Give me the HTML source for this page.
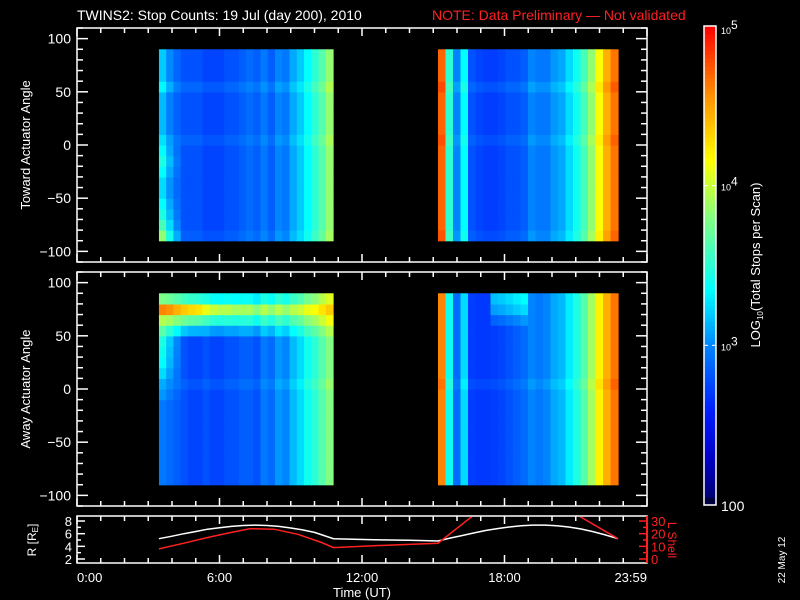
<!DOCTYPE html>
<html><head><meta charset="utf-8"><style>
html,body{margin:0;padding:0;background:#000;}
svg{display:block;font-family:"Liberation Sans",sans-serif;}
</style></head><body>
<svg id="c" width="800" height="600" viewBox="0 0 800 600">
<rect width="800" height="600" fill="#000"/>
<g id="heat"></g><g id="axes"></g><g id="lines"></g>
<text x="77" y="20" fill="#fff" font-size="14">TWINS2: Stop Counts: 19 Jul (day 200), 2010</text>
<text x="432" y="20" fill="#ff2020" font-size="14">NOTE: Data Preliminary — Not validated</text>
<text transform="translate(30,145) rotate(-90)" text-anchor="middle" fill="#fff" font-size="13">Toward Actuator Angle</text>
<text transform="translate(30,389) rotate(-90)" text-anchor="middle" fill="#fff" font-size="13">Away Actuator Angle</text>
<text transform="translate(36,540) rotate(-90)" text-anchor="middle" fill="#fff" font-size="12">R [R<tspan font-size="8" dy="2">E</tspan><tspan dy="-2">]</tspan></text>
<text transform="translate(668,540) rotate(90)" text-anchor="middle" fill="#ff2020" font-size="12">L Shell</text>
<text x="362" y="597" text-anchor="middle" fill="#fff" font-size="13">Time (UT)</text>
<text transform="translate(760,265) rotate(-90)" text-anchor="middle" fill="#fff" font-size="13">LOG<tspan font-size="8" dy="3">10</tspan><tspan dy="-3">(Total Stops per Scan)</tspan></text>
<text transform="translate(785,560) rotate(-90)" text-anchor="middle" fill="#fff" font-size="10">22 May 12</text>
</svg>
<script>
// ---- data ----
const block1Range=[3.45,10.78];
const block2Range=[15.2,22.78];
const topBlock1=[3.1,2.95,2.85,2.8,2.8,2.8,2.75,2.75,2.75,2.8,2.8,2.85,2.9,2.85,2.95,2.85,3.0,2.95,3.1,3.2,3.35,3.5,3.65,3.85];
const botBlock1=[2.95,2.9,2.85,2.8,2.75,2.75,2.8,2.75,2.75,2.8,2.8,2.85,2.85,2.8,2.95,2.9,3.05,3.0,3.15,3.25,3.4,3.5,3.65,3.8];
const topBlock2=[4.7,3.5,3.0,3.35,2.8,2.75,2.72,2.72,2.75,2.8,2.8,2.85,3.0,2.95,2.95,3.05,3.1,3.25,3.4,3.6,3.85,4.15,4.45,4.65];
const botBlock2=[4.6,3.4,2.9,3.25,2.72,2.7,2.7,2.72,2.75,2.8,2.85,2.9,3.0,2.95,3.0,3.1,3.15,3.3,3.45,3.65,3.9,4.2,4.45,4.65];
const topRowOff=[0.05,0,0,0,0,0,0,0,0,0.06,0,0,0,0,0.08,0,0,0];
const topLeftBoost=[0.7,0.5,0.35,0.25,0.15,0.15,0.25,0.35,0.25,0.1,0.05,0.05,0.05,0.05,0.15,0.1,0.1,0.1];
const botRowOff=[0,0,0,0,0,0,0,0,0,0.06,0,0,0,0,0,0,0,0];
const botLeftBoost=[0,0,0,0,0,0,0,0,0.1,0.1,0.3,0.4,0.45,0.5,0.3,0,0,0];
const botBandShape=[0,0,0,0,0,0,0,0,0,0,0,0,0,0,0.25,0.6,1.0,0.5];
const botBandAmp=[1.65,1.65,1.6,1.55,1.55,1.5,1.3,1.25,1.2,1.15,1.1,1.05,1.05,1.0,1.0,0.95,0.9,0.85,0.8,0.75,0.7,0.65,0.6,0.55];
const botBlock2TopBoost=[0,0,0,0,0,0,0,0,0,0,0,0,0,0,0,0.15,0.35,0.45];
const yTicks=[-100,-50,0,50,100];
const xTickLabels=["0:00","6:00","12:00","18:00","23:59"];
const xTickHours=[0,6,12,18,24];
const orbitHours=[3.45,4,4.5,5,5.5,6,6.5,7,7.5,8,8.5,9,9.5,10,10.8,12.5,14,15.2,15.7,16.2,16.7,17.2,17.7,18.2,18.7,19.2,19.7,20.2,20.7,21.2,21.7,22.2,22.78];
const rValues=[5.2,5.6,6.0,6.35,6.7,6.95,7.15,7.3,7.35,7.3,7.15,6.9,6.6,6.2,5.2,5.05,4.95,4.85,5.3,5.7,6.1,6.5,6.8,7.05,7.25,7.35,7.35,7.25,7.05,6.75,6.35,5.85,5.2];
const lHours=[3.45,4.5,5.5,6.5,7.3,8.3,9.3,10.3,10.8,12.5,14,15.2,17.2,20.4,22.78];
const lValues=[8,12.5,17,21,24,23.5,19.5,13,9,10.5,11.5,12.5,42,42,16];
const cbTicks=[2,3,4,5];
const cbLabels=["100","10","10","10"];
const cbExp=["","3","4","5"];
// ---- layout ----
const NS="http://www.w3.org/2000/svg";
const X0=77,X1=647;
const xs=h=>X0+(X1-X0)*h/24;
const panels=[{top:28,bot:262},{top:272,bot:506}];
const ys=(p,a)=>p.top+(p.bot-p.top)*(110-a)/220;
const SP={top:516,bot:563};
const rS=r=>559-(r-2)*6.33;
const lS=l=>rS(2+l/5);
function el(tag,attrs,parent){const e=document.createElementNS(NS,tag);for(const k in attrs)e.setAttribute(k,attrs[k]);parent.appendChild(e);return e;}
const stops=[[0,0,0,100],[0.1,0,0,200],[0.2,0,30,255],[0.33,0,130,255],[0.45,0,255,255],[0.6,130,255,130],[0.72,255,255,0],[0.86,255,140,0],[1,255,0,0]];
function cmap(v){v=Math.max(0,Math.min(1,v));for(let i=1;i<stops.length;i++){if(v<=stops[i][0]){const a=stops[i-1],b=stops[i],t=(v-a[0])/(b[0]-a[0]);
  return `rgb(${Math.round(a[1]+(b[1]-a[1])*t)},${Math.round(a[2]+(b[2]-a[2])*t)},${Math.round(a[3]+(b[3]-a[3])*t)})`;}}return 'rgb(255,0,0)';}
const logToV=l=>(l-2)/3;
const heat=document.getElementById('heat'),axes=document.getElementById('axes'),lines=document.getElementById('lines');
function drawBlock(p,range,base,rowOff,left,band,bandShape,topBoost,name){
  const n=base.length,dh=(range[1]-range[0])/n;
  for(let c=0;c<n;c++){for(let r=0;r<18;r++){
    let v=base[c]+rowOff[r];
    if(left){const w=[1,0.6,0.3][c]||0;v+=left[r]*w;}
    if(band)v+=band[c]*bandShape[r];
    if(topBoost&&c>=7&&c<=11)v+=topBoost[r];
    const x0=xs(range[0]+c*dh),x1=xs(range[0]+(c+1)*dh);
    const a0=-90+r*10,a1=a0+10;
    const rc=el('rect',{x:x0.toFixed(2),y:ys(p,a1).toFixed(2),width:(x1-x0+0.6).toFixed(2),height:(ys(p,a0)-ys(p,a1)+0.6).toFixed(2),fill:cmap(logToV(v))},heat);
    
    
  }}
}
drawBlock(panels[0],block1Range,topBlock1,topRowOff,topLeftBoost,null,null,null,'toward-block1');
drawBlock(panels[0],block2Range,topBlock2,topRowOff,null,null,null,null,'toward-block2');
drawBlock(panels[1],block1Range,botBlock1,botRowOff,botLeftBoost,botBandAmp,botBandShape,null,'away-block1');
drawBlock(panels[1],block2Range,botBlock2,botRowOff,null,null,null,botBlock2TopBoost,'away-block2');
function xTicks(top,bot){
  for(let h=0;h<=24;h++){const x=xs(h),L=(h%6===0)?8:5;
    el('line',{x1:x,x2:x,y1:bot,y2:bot-L,stroke:'#fff','stroke-width':1.5},axes);
    el('line',{x1:x,x2:x,y1:top,y2:top+L,stroke:'#fff','stroke-width':1.5},axes);}
}
panels.forEach((p,i)=>{
  const f=el('rect',{x:X0,y:p.top,width:X1-X0,height:p.bot-p.top,fill:'none',stroke:'#fff','stroke-width':1.5},axes);
  
  
  for(let a=-110;a<=110;a+=10){const y=ys(p,a),L=(a%50===0)?11:6;
    el('line',{x1:X0,x2:X0+L,y1:y,y2:y,stroke:'#fff','stroke-width':1.5},axes);
    el('line',{x1:X1,x2:X1-L,y1:y,y2:y,stroke:'#fff','stroke-width':1.5},axes);}
  xTicks(p.top,p.bot);
  yTicks.forEach(t=>{const tx=el('text',{x:X0-6,y:ys(p,t)+5,'text-anchor':'end',fill:'#fff','font-size':14},axes);tx.textContent=(t<0?'\u2212'+(-t):t);
    
    });
});
const sf=el('rect',{x:X0,y:SP.top,width:X1-X0,height:SP.bot-SP.top,fill:'none',stroke:'#fff','stroke-width':1.5},axes);


xTicks(SP.top,SP.bot);
for(let r=2;r<=8;r++){const y=rS(r),L=r%2===0?8:4;el('line',{x1:X0,x2:X0+L,y1:y,y2:y,stroke:'#fff','stroke-width':1.5},axes);
  if(r%2===0){const t=el('text',{x:X0-5,y:y+5,'text-anchor':'end',fill:'#fff','font-size':13},axes);t.textContent=r;
    
    }}
el('line',{x1:X1,x2:X1,y1:SP.top,y2:SP.bot,stroke:'#ff2020','stroke-width':2},axes);
for(let l=0;l<=30;l+=5){const y=lS(l),L=l%10===0?8:4;el('line',{x1:X1,x2:X1-L,y1:y,y2:y,stroke:'#ff2020','stroke-width':1.5},axes);
  if(l%10===0){const t=el('text',{x:X1+4,y:y+5,fill:'#ff2020','font-size':13},axes);t.textContent=l;
    
    }}
xTickHours.forEach((h,i)=>{const anchor=i===0?'start':(i===4?'end':'middle');
  const t=el('text',{x:xs(h),y:582,'text-anchor':anchor,fill:'#fff','font-size':13},axes);t.textContent=xTickLabels[i];
  
  });
const clip=el('clipPath',{id:'sc'},lines);el('rect',{x:X0,y:SP.top+1,width:X1-X0,height:SP.bot-SP.top-1},clip);
const rp=el('polyline',{points:orbitHours.map((h,i)=>xs(h).toFixed(1)+','+rS(rValues[i]).toFixed(1)).join(' '),fill:'none',stroke:'#fff','stroke-width':1.5,'clip-path':'url(#sc)'},lines);


const lp=el('polyline',{points:lHours.map((h,i)=>xs(h).toFixed(1)+','+lS(lValues[i]).toFixed(1)).join(' '),fill:'none',stroke:'#ff2020','stroke-width':1.5,'clip-path':'url(#sc)'},lines);


const CB={x:704,w:12,top:26,bot:505};
const cbY=l=>CB.bot-(CB.bot-CB.top)*(l-2)/3;
for(let i=0;i<120;i++){const v0=(i+0.5)/120;
  el('rect',{x:CB.x,y:(CB.bot-(i+1)*(CB.bot-CB.top)/120).toFixed(2),width:CB.w,height:((CB.bot-CB.top)/120+0.5).toFixed(2),fill:i<2?'#000040':cmap(v0)},axes);}
const cbf=el('rect',{x:CB.x,y:CB.top,width:CB.w,height:CB.bot-CB.top,fill:'none',stroke:'#fff','stroke-width':1.5},axes);


cbTicks.forEach((l,i)=>{const y=cbY(l);
  if(i>0&&i<3){el('line',{x1:CB.x,x2:CB.x+4,y1:y,y2:y,stroke:'#fff'},axes);el('line',{x1:CB.x+CB.w-4,x2:CB.x+CB.w,y1:y,y2:y,stroke:'#fff'},axes);}
  const t=el('text',{x:721,y:i===0?y+6:(i===3?y+8:y+5),fill:'#fff','font-size':i===0?14:9},axes);
  t.textContent=cbLabels[i];
  if(cbExp[i]){const s=el('tspan',{dy:-5,'font-size':12},t);s.textContent=cbExp[i];}
  
  });
</script>
</body></html>
